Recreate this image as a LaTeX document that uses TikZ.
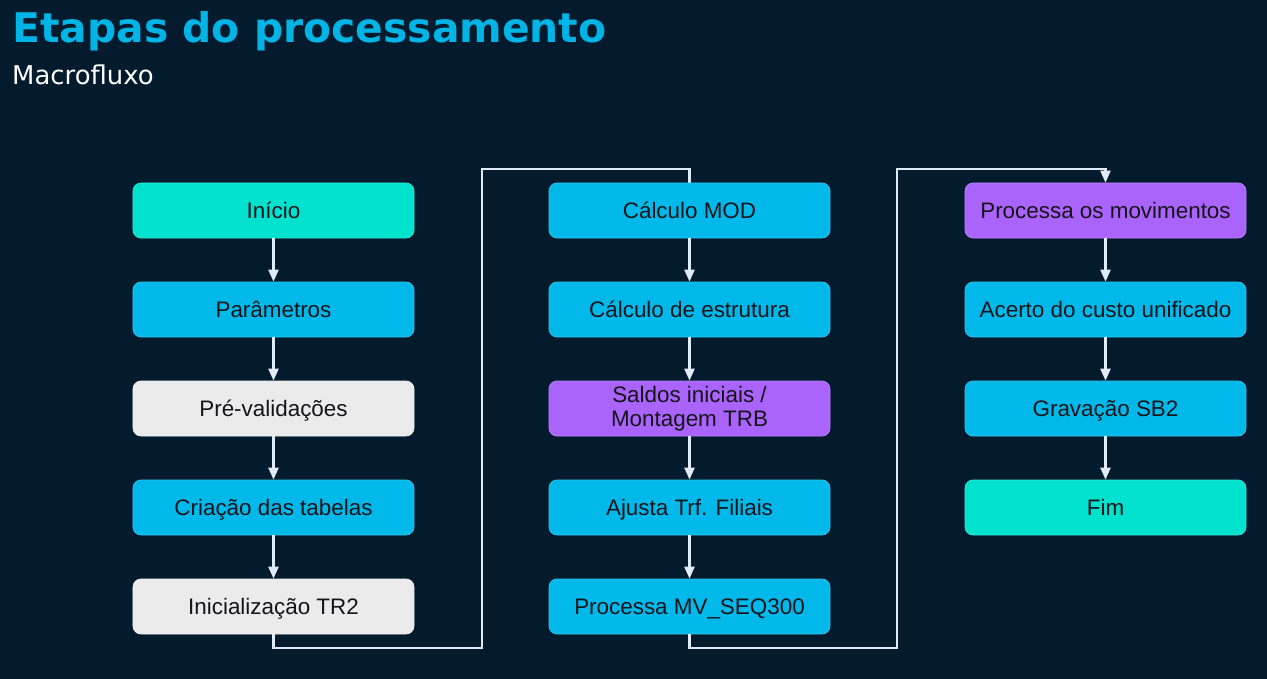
\documentclass[tikz,border=0pt]{standalone}
\usepackage{fontspec}
\setmainfont{Liberation Sans}
\newfontfamily\titlefont{DejaVu Sans}
\usetikzlibrary{arrows.meta,backgrounds}
\definecolor{bgc}{RGB}{3,27,44}
\definecolor{titc}{RGB}{0,180,230}
\definecolor{tealc}{RGB}{0,226,206}
\definecolor{bluec}{RGB}{0,184,234}
\definecolor{grayc}{RGB}{235,235,235}
\definecolor{purpc}{RGB}{170,100,252}
\definecolor{linec}{RGB}{225,235,245}
\definecolor{txtc}{RGB}{20,20,25}
\tikzset{
  box/.style={rounded corners=8bp, minimum width=281bp, minimum height=55bp,
    inner sep=0pt, align=center, text=txtc,
    font=\fontsize{22.5}{26}\selectfont},
  one/.style={text height=19bp, text depth=3bp},
  tealbox/.style={box, fill=tealc, draw=tealc!80!white, line width=0.7bp},
  bluebox/.style={box, fill=bluec, draw=bluec!80!white, line width=0.7bp},
  graybox/.style={box, fill=grayc, draw=grayc!80!white, line width=0.7bp},
  purpbox/.style={box, fill=purpc, draw=purpc!80!white, line width=0.7bp},
  conn/.style={draw=linec, line width=2.3bp},
  arr/.style={conn, -{Triangle[width=10bp,length=12bp]}},
}
\begin{document}
\begin{tikzpicture}[x=1bp,y=-1bp]
\useasboundingbox (0,0) rectangle (1267,679);
\node[anchor=base west, text=titc, inner sep=0pt, font=\titlefont\bfseries\fontsize{41}{46}\selectfont] (title) at (12,43) {Etapas do processamento};
\node[anchor=base west, text=white, inner sep=0pt, font=\titlefont\fontsize{26}{30}\selectfont] (sub) at (12,85) {Macrofluxo};
% column 1
\node[tealbox,one] (ini) at (273.5,210.5) {Início};
\node[bluebox,one] (par) at (273.5,309.5) {Parâmetros};
\node[graybox,one] (pre) at (273.5,408.5) {Pré-validações};
\node[bluebox,one] (cri) at (273.5,507.5) {Criação das tabelas};
\node[graybox,one] (tr2) at (273.5,606.5) {Inicialização TR2};
% column 2
\node[bluebox,one] (mod) at (689.5,210.5) {Cálculo MOD};
\node[bluebox,one] (est) at (689.5,309.5) {Cálculo de estrutura};
\node[purpbox] (sal) at (689.5,408.5) {Saldos iniciais /\\[-2bp]Montagem TRB};
\node[bluebox,one] (aju) at (689.5,507.5) {Ajusta Trf. Filiais};
\node[bluebox,one] (mv) at (689.5,606.5) {Processa MV\_SEQ300};
% column 3
\node[purpbox,one] (mov) at (1105.5,210.5) {Processa os movimentos};
\node[bluebox,one] (ace) at (1105.5,309.5) {Acerto do custo unificado};
\node[bluebox,one] (sb2) at (1105.5,408.5) {Gravação SB2};
\node[tealbox,one] (fim) at (1105.5,507.5) {Fim};
% connectors
\draw[arr] (ini) -- (par);
\draw[arr] (par) -- (pre);
\draw[arr] (pre) -- (cri);
\draw[arr] (cri) -- (tr2);
\draw[arr] (mod) -- (est);
\draw[arr] (est) -- (sal);
\draw[arr] (sal) -- (aju);
\draw[arr] (aju) -- (mv);
\draw[arr] (mov) -- (ace);
\draw[arr] (ace) -- (sb2);
\draw[arr] (sb2) -- (fim);
\begin{scope}[on background layer]
\fill[bgc] (0,0) rectangle (1267,679);
\draw[conn] (tr2.south) |- (482,648) |- (689.5,169) -- (mod.center);
\end{scope}
\draw[arr] (mv.south) |- (897,648) |- (1105.5,169) -- (mov.north);
\end{tikzpicture}
\end{document}
